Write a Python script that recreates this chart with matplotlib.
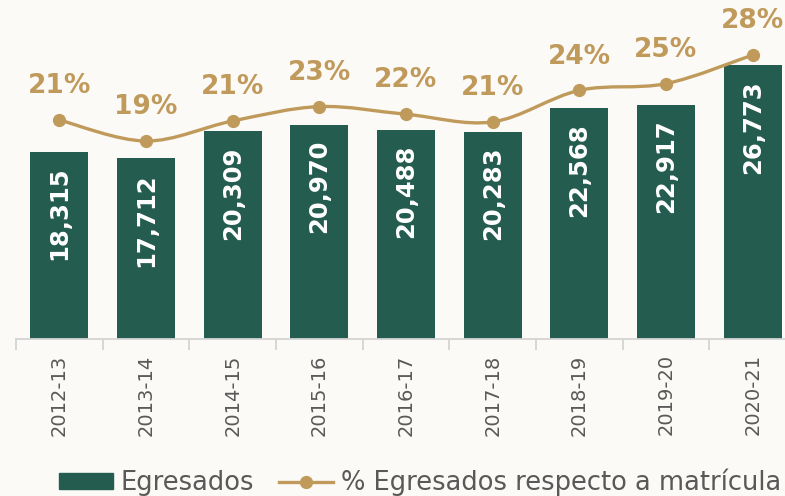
import numpy as np
import matplotlib.pyplot as plt
from matplotlib.path import Path
from matplotlib.patches import PathPatch
from matplotlib.lines import Line2D
from matplotlib.patches import Patch

# datos
ciclos = ['2012-13', '2013-14', '2014-15', '2015-16', '2016-17',
          '2017-18', '2018-19', '2019-20', '2020-21']
egresados = [18315, 17712, 20309, 20970, 20488, 20283, 22568, 22917, 26773]
porcentaje = [21.2, 19.0, 21.1, 22.6, 21.8, 21.0, 24.3, 25.0, 28.0]

verde = '#245c4f'
dorado = '#c09a5b'
gris = '#595959'
fondo = '#fbfaf7'

fig = plt.figure(figsize=(7.85, 4.96), dpi=100, facecolor=fondo)
ax = fig.add_axes([16 / 785, 157 / 496, 780 / 785, 329 / 496])
ax.set_facecolor('none')

x = np.arange(len(ciclos))
barras = ax.bar(x, egresados, width=0.67, color=verde, zorder=2)
ax.set_xlim(-0.5, len(ciclos) - 0.5)
ax.set_ylim(0, 32200)

# etiquetas dentro de las barras
for xi, v in zip(x, egresados):
    ax.text(xi, v - 15 / 0.01022, f'{v:,}', rotation=90, ha='center', va='top',
            color='white', fontsize=17.5, fontweight='bold', zorder=3)

# ejes
for s in ['top', 'right', 'left']:
    ax.spines[s].set_visible(False)
ax.spines['bottom'].set_color('#d4d4d4')
ax.spines['bottom'].set_linewidth(1.3)
ax.set_yticks([])
ax.set_xticks(x)
ax.set_xticklabels(ciclos, rotation=90, color=gris, fontsize=14)
ax.tick_params(axis='x', length=0, pad=11)
ax.set_xticks(np.arange(-0.5, len(ciclos)), minor=True)
ax.tick_params(axis='x', which='minor', length=8, color='#d4d4d4', width=1.3)

# eje secundario para el porcentaje
ax2 = ax.twinx()
ax2.set_ylim(-1.7, 32.7)
ax2.axis('off')

# curva suavizada (catmull-rom -> bezier)
pts = np.column_stack([x, porcentaje]).astype(float)
verts = [pts[0]]
codes = [Path.MOVETO]
n = len(pts)
for i in range(n - 1):
    p0 = pts[max(i - 1, 0)]
    p1 = pts[i]
    p2 = pts[i + 1]
    p3 = pts[min(i + 2, n - 1)]
    c1 = p1 + (p2 - p0) / 6
    c2 = p2 - (p3 - p1) / 6
    verts += [c1, c2, p2]
    codes += [Path.CURVE4] * 3
ax2.add_patch(PathPatch(Path(verts, codes), fill=False, edgecolor=dorado,
                        linewidth=2.4, zorder=4))
ax2.plot(x, porcentaje, 'o', color=dorado, markersize=8.5, zorder=5)

for xi, p in zip(x, porcentaje):
    ax2.annotate(f'{p:.0f}%', (xi, p), xytext=(0, 15), textcoords='offset points',
                 ha='center', va='bottom', color=dorado, fontsize=19,
                 fontweight='bold')

# leyenda
handles = [Patch(color=verde, label='Egresados'),
           Line2D([0], [0], color=dorado, linewidth=2.4, marker='o', markersize=8.5,
                  label='% Egresados respecto a matrícula')]
fig.legend(handles=handles, loc='center', bbox_to_anchor=(0.535, 0.027), ncol=2,
           frameon=False, fontsize=18.5, labelcolor=gris, handlelength=2.1,
           handleheight=0.6, handletextpad=0.3, columnspacing=1.0, borderaxespad=0)

plt.savefig('out.png', dpi=100, facecolor=fondo)
